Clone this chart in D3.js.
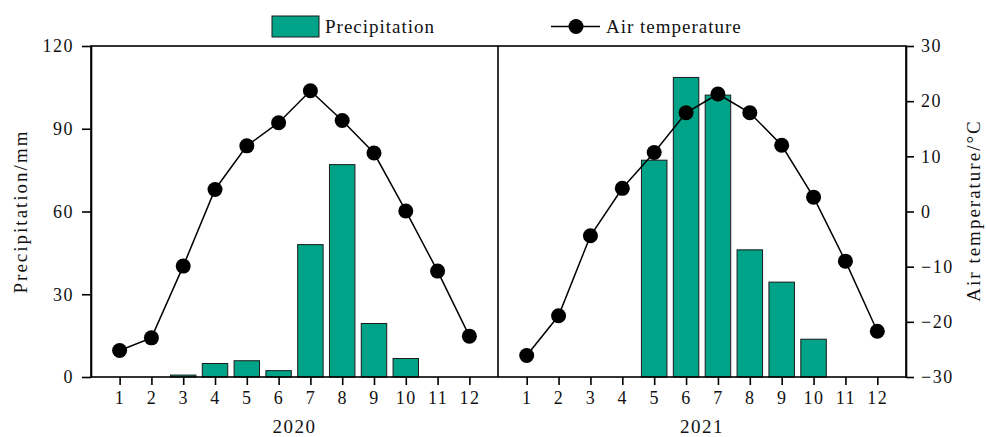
<!DOCTYPE html>
<html>
<head>
<meta charset="utf-8">
<script src="https://d3js.org/d3.v7.min.js"></script>
<style>
  body { margin: 0; background: #fff; }
  svg text { font-family: "Liberation Serif", "Times New Roman", serif; fill: #111; }
</style>
</head>
<body>
<svg id="chart" width="986" height="437"></svg>
<script>
// Monthly data
var months = [1, 2, 3, 4, 5, 6, 7, 8, 9, 10, 11, 12];
var years = ["2020", "2021"];
var precip2020 = [0, 0, 0.7, 4.9, 5.9, 2.3, 48.0, 77.0, 19.4, 6.7, 0, 0];
var precip2021 = [0, 0, 0, 0, 78.6, 108.6, 102.2, 46.1, 34.4, 13.7, 0, 0];
var temp2020 = [-25.2, -22.9, -9.9, 4.0, 11.9, 16.1, 21.9, 16.5, 10.6, 0.1, -10.8, -22.6];
var temp2021 = [-26.1, -18.9, -4.4, 4.2, 10.7, 17.9, 21.3, 17.9, 12.0, 2.6, -9.0, -21.7];
var precipTicks = [0, 30, 60, 90, 120];
var tempTicks = [-30, -20, -10, 0, 10, 20, 30];

var BAR_COLOR = "#00a388";
var FONT_SIZE = "18px";
var TITLE_SIZE = "19px";

var svg = d3.select("#chart");
var LEFT = 91, MID = 498, RIGHT = 906, TOP = 46, BOTTOM = 377;

var yPrecip = d3.scaleLinear().domain([0, 120]).range([BOTTOM, TOP]);
var yTemp = d3.scaleLinear().domain([-30, 30]).range([BOTTOM, TOP]);

var panels = [
  { year: years[0], precip: precip2020, temp: temp2020, x0: LEFT, x1: MID },
  { year: years[1], precip: precip2021, temp: temp2021, x0: MID, x1: RIGHT }
];

function styleAxis(g) {
  g.selectAll("path, line").attr("stroke", "#000").attr("stroke-width", 1.6);
  g.selectAll("text")
    .style("font-size", FONT_SIZE)
    .style("letter-spacing", "1.5px")
    .attr("fill", "#111");
}

/********** panels *********/
panels.forEach(function (p) {
  var x = d3.scaleLinear().domain([0.1, 12.9]).range([p.x0, p.x1]);
  var step = x(2) - x(1);
  var bw = step * 0.8;

  // bars
  svg.append("g").selectAll("rect")
    .data(months.filter(function (m, i) { return p.precip[i] > 0; }))
    .enter().append("rect")
    .attr("x", function (m) { return x(m) - bw / 2; })
    .attr("y", function (m) { return yPrecip(p.precip[m - 1]); })
    .attr("width", bw)
    .attr("height", function (m) { return BOTTOM - yPrecip(p.precip[m - 1]); })
    .attr("fill", BAR_COLOR)
    .attr("stroke", "#1a1a1a")
    .attr("stroke-width", 1);

  // temperature line
  var line = d3.line()
    .x(function (m) { return x(m); })
    .y(function (m) { return yTemp(p.temp[m - 1]); });
  svg.append("path")
    .datum(months)
    .attr("d", line)
    .attr("fill", "none")
    .attr("stroke", "#000")
    .attr("stroke-width", 1.5);
  svg.append("g").selectAll("circle")
    .data(months)
    .enter().append("circle")
    .attr("cx", function (m) { return x(m); })
    .attr("cy", function (m) { return yTemp(p.temp[m - 1]); })
    .attr("r", 7.5)
    .attr("fill", "#000");

  // bottom axis
  var ax = svg.append("g")
    .attr("transform", "translate(0," + BOTTOM + ")")
    .call(d3.axisBottom(x).tickValues(months).tickSize(8).tickPadding(6).tickSizeOuter(0));
  ax.select(".domain").remove();
  styleAxis(ax);

  svg.append("text")
    .attr("x", (p.x0 + p.x1) / 2)
    .attr("y", 433)
    .attr("text-anchor", "middle")
    .style("font-size", TITLE_SIZE)
    .style("letter-spacing", "1.5px")
    .text(p.year);
});

/********** frame *********/
svg.append("rect")
  .attr("x", LEFT).attr("y", TOP)
  .attr("width", RIGHT - LEFT).attr("height", BOTTOM - TOP)
  .attr("fill", "none").attr("stroke", "#000").attr("stroke-width", 1.6);
svg.append("line")
  .attr("x1", MID).attr("x2", MID).attr("y1", TOP).attr("y2", BOTTOM)
  .attr("stroke", "#000").attr("stroke-width", 1.6);

/********** y axes *********/
var axL = svg.append("g")
  .attr("transform", "translate(" + LEFT + ",0)")
  .call(d3.axisLeft(yPrecip).tickValues(precipTicks).tickSize(9).tickPadding(8).tickSizeOuter(0));
styleAxis(axL);

var axR = svg.append("g")
  .attr("transform", "translate(" + RIGHT + ",0)")
  .call(d3.axisRight(yTemp).tickValues(tempTicks).tickSize(8).tickPadding(7).tickSizeOuter(0)
    .tickFormat(function (d) { return d < 0 ? "\u2212" + Math.abs(d) : d; }));
styleAxis(axR);

svg.append("text")
  .attr("transform", "translate(27," + (TOP + BOTTOM) / 2 + ") rotate(-90)")
  .attr("text-anchor", "middle")
  .style("font-size", TITLE_SIZE)
  .style("letter-spacing", "2px")
  .text("Precipitation/mm");

svg.append("text")
  .attr("transform", "translate(980," + ((TOP + BOTTOM) / 2 - 1) + ") rotate(-90)")
  .attr("text-anchor", "middle")
  .style("font-size", TITLE_SIZE)
  .style("letter-spacing", "2px")
  .text("Air temperature/\u00B0C");

/********** legend *********/
var legend = svg.append("g");
legend.append("rect")
  .attr("x", 272).attr("y", 16).attr("width", 47).attr("height", 21)
  .attr("fill", BAR_COLOR).attr("stroke", "#1a1a1a").attr("stroke-width", 1);
legend.append("text")
  .attr("x", 325).attr("y", 33)
  .style("font-size", TITLE_SIZE)
  .style("letter-spacing", "1px")
  .text("Precipitation");
legend.append("line")
  .attr("x1", 551).attr("x2", 600).attr("y1", 26.5).attr("y2", 26.5)
  .attr("stroke", "#000").attr("stroke-width", 1.5);
legend.append("circle")
  .attr("cx", 576).attr("cy", 26.5).attr("r", 7.5).attr("fill", "#000");
legend.append("text")
  .attr("x", 606).attr("y", 33)
  .style("font-size", TITLE_SIZE)
  .style("letter-spacing", "1px")
  .text("Air temperature");
</script>
</body>
</html>
